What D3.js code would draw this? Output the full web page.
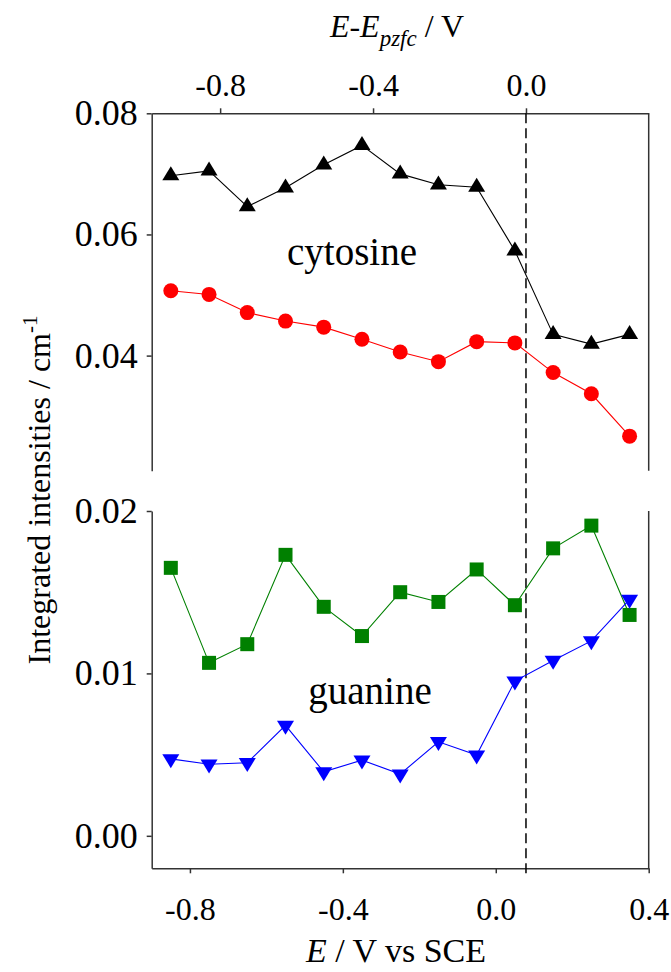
<!DOCTYPE html>
<html lang="en">
<head>
  <meta charset="UTF-8" />
  <title>Integrated intensities vs potential</title>
  <script src="https://d3js.org/d3.v7.min.js"></script>
  <style>
    body {
      margin: 0;
      background-color: #ffffff;
    }
    svg {
      display: block;
      font-family: 'Liberation Serif', 'Times New Roman', serif;
    }
    .axis path, .axis line {
      stroke: #333;
      stroke-width: 1.5;
    }
    .axis text {
      fill: #000;
      font-size: 32px;
      font-family: 'Liberation Serif', 'Times New Roman', serif;
    }
    .yaxis text {
      font-size: 36px;
    }
  </style>
</head>
<body>
<div id="chart"></div>

<script>
// potentials (V vs SCE)
const potentials = [-0.85, -0.75, -0.65, -0.55, -0.45, -0.35, -0.25, -0.15, -0.05, 0.05, 0.15, 0.25, 0.35];

// cytosine bands (upper panel)
const cytTriangle = [0.0697, 0.0705, 0.0646, 0.0677, 0.0715, 0.0747, 0.0700, 0.0682, 0.0678, 0.0573, 0.0435, 0.0419, 0.0435];
const cytCircle   = [0.0507, 0.0501, 0.0471, 0.0457, 0.0447, 0.0427, 0.0406, 0.0390, 0.0423, 0.0421, 0.0372, 0.0337, 0.0267];

// guanine bands (lower panel)
const guaSquare   = [0.0165, 0.01065, 0.0118, 0.0173, 0.0141, 0.0123, 0.0150, 0.0144, 0.0164, 0.0142, 0.0177, 0.0191, 0.0136];
const guaDownTri  = [0.00474, 0.00441, 0.0045, 0.0068, 0.00394, 0.00466, 0.0038, 0.00579, 0.00497, 0.00953, 0.0108, 0.0120, 0.01456];

const ePzfc = 0.079;
const bottomTicks = [-0.8, -0.4, 0.0, 0.4];
const topTicks = [-0.8, -0.4, 0.0];
const upperTicks = [0.04, 0.06, 0.08];
const lowerTicks = [0.00, 0.01, 0.02];

const W = 671, H = 972;
const left = 151.7, right = 648.7;

const svg = d3.select("#chart").append("svg")
  .attr("width", W)
  .attr("height", H);

const x = d3.scaleLinear().domain([-0.9, 0.4]).range([left, right]);
const xTop = d3.scaleLinear().domain([-0.9 - ePzfc, 0.4 - ePzfc]).range([left, right]);
const yUp = d3.scaleLinear().domain([0.021, 0.08]).range([470.7, 113.3]);
const yLo = d3.scaleLinear().domain([-0.002, 0.02]).range([868.3, 511]);

const fmt1 = d => d.toFixed(1);
const fmt2 = d => d.toFixed(2);

// frame lines on the right side
[yUp, yLo].forEach(y => {
  svg.append("line")
    .attr("x1", right).attr("x2", right)
    .attr("y1", y.range()[0]).attr("y2", y.range()[1])
    .attr("stroke", "#333").attr("stroke-width", 1.5);
});

// axes
svg.append("g").attr("class", "axis")
  .attr("transform", `translate(0,${yLo.range()[0]})`)
  .call(d3.axisBottom(x).tickValues(bottomTicks).tickFormat(fmt1).tickSize(5).tickSizeOuter(0).tickPadding(24));

svg.append("g").attr("class", "axis")
  .attr("transform", `translate(0,${yUp.range()[1]})`)
  .call(d3.axisTop(xTop).tickValues(topTicks).tickFormat(fmt1).tickSize(5).tickSizeOuter(0).tickPadding(12));

svg.append("g").attr("class", "axis yaxis")
  .attr("transform", `translate(${left},0)`)
  .call(d3.axisLeft(yUp).tickValues(upperTicks).tickFormat(fmt2).tickSize(5).tickSizeOuter(0).tickPadding(9));

svg.append("g").attr("class", "axis yaxis")
  .attr("transform", `translate(${left},0)`)
  .call(d3.axisLeft(yLo).tickValues(lowerTicks).tickFormat(fmt2).tickSize(5).tickSizeOuter(0).tickPadding(9));

// dashed line at the potential of zero free charge
svg.append("line")
  .attr("x1", x(ePzfc)).attr("x2", x(ePzfc))
  .attr("y1", yUp.range()[1]).attr("y2", yLo.range()[0] + 6)
  .attr("stroke", "#000").attr("stroke-width", 1.5)
  .attr("stroke-dasharray", "10,5");

// markers
function upTri(w, h) {
  return `M0,${-2 * h / 3}L${w / 2},${h / 3}L${-w / 2},${h / 3}Z`;
}
function downTri(w, h) {
  return `M0,${2 * h / 3}L${w / 2},${-h / 3}L${-w / 2},${-h / 3}Z`;
}

function drawSeries(values, y, color, shape) {
  const pts = potentials.map((p, i) => [p, values[i]]);
  svg.append("path")
    .datum(pts)
    .attr("fill", "none")
    .attr("stroke", color)
    .attr("stroke-width", 1.1)
    .attr("d", d3.line().x(d => x(d[0])).y(d => y(d[1])));

  const g = svg.append("g");
  pts.forEach(d => {
    const cx = x(d[0]), cy = y(d[1]);
    if (shape === "circle") {
      g.append("circle").attr("cx", cx).attr("cy", cy).attr("r", 7.5).attr("fill", color);
    } else if (shape === "square") {
      g.append("rect").attr("x", cx - 7).attr("y", cy - 7).attr("width", 14).attr("height", 14).attr("fill", color);
    } else if (shape === "up") {
      g.append("path").attr("transform", `translate(${cx},${cy})`).attr("d", upTri(17, 14)).attr("fill", color);
    } else {
      g.append("path").attr("transform", `translate(${cx},${cy})`).attr("d", downTri(17, 14)).attr("fill", color);
    }
  });
}

drawSeries(cytCircle, yUp, "#ff0000", "circle");
drawSeries(cytTriangle, yUp, "#000000", "up");
drawSeries(guaSquare, yLo, "#008000", "square");
drawSeries(guaDownTri, yLo, "#0000ff", "down");

// panel labels
svg.append("text")
  .attr("x", 352).attr("y", 265)
  .attr("text-anchor", "middle")
  .style("font-size", "39px")
  .text("cytosine");

svg.append("text")
  .attr("x", 370).attr("y", 704)
  .attr("text-anchor", "middle")
  .style("font-size", "39px")
  .text("guanine");

// axis titles
const bt = svg.append("text")
  .attr("x", 396).attr("y", 962)
  .attr("text-anchor", "middle")
  .style("font-size", "34px");
bt.append("tspan").style("font-style", "italic").text("E");
bt.append("tspan").text(" / V vs SCE");

const tt = svg.append("text")
  .attr("x", 397).attr("y", 37)
  .attr("text-anchor", "middle")
  .style("font-size", "32px");
tt.append("tspan").style("font-style", "italic").text("E");
tt.append("tspan").text("-");
tt.append("tspan").style("font-style", "italic").text("E");
tt.append("tspan").style("font-style", "italic").style("font-size", "23px").attr("dy", 9).text("pzfc");
tt.append("tspan").attr("dy", -9).text(" / V");

const yt = svg.append("text")
  .attr("transform", "translate(50,490) rotate(-90)")
  .attr("text-anchor", "middle")
  .style("font-size", "32px");
yt.append("tspan").text("Integrated intensities / cm");
yt.append("tspan").style("font-size", "21px").attr("dy", -13).text("-1");
</script>
</body>
</html>
